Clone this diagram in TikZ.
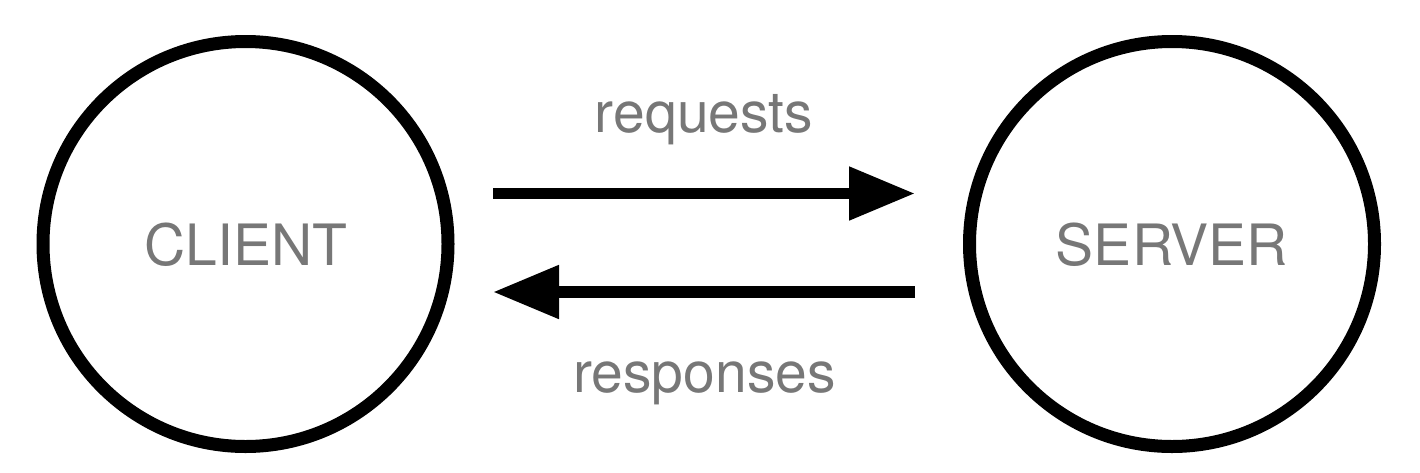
\documentclass[tikz,border=0pt]{standalone}
\usepackage{fontspec}
\setmainfont{TeX Gyre Heros}
\usetikzlibrary{arrows.meta}
\definecolor{labelgray}{HTML}{777777}
\tikzset{
  peer/.style={circle, draw=black, line width=13pt, minimum size=405pt, inner sep=0pt,
    text=labelgray, font=\fontsize{57pt}{60pt}\selectfont},
  msg/.style={line width=11.5pt, draw=black, -{Triangle[length=66pt,width=51pt]}},
  lbl/.style={anchor=base, text=labelgray, inner sep=0pt, font=\fontsize{57pt}{60pt}\selectfont}
}
\begin{document}
\begin{tikzpicture}[x=1pt,y=-1pt]
\useasboundingbox (0,0) rectangle (1420,472);
\node[peer] (client) at (245.5,244) {};
\node[peer] (server) at (1172,244) {};
\node[lbl] (clientlbl) at (246,265) {CLIENT};
\node[lbl] (serverlbl) at (1172,265) {SERVER};
\draw[msg, shorten <=38.5pt, shorten >=48pt] ([yshift=50.5pt]client.east) -- ([yshift=50.5pt]server.west);
\draw[msg, shorten <=48pt, shorten >=38.5pt] ([yshift=-48pt]server.west) -- ([yshift=-48pt]client.east);
\node[lbl] (req) at (704,132) {requests};
\node[lbl] (resp) at (704.5,392) {responses};
\end{tikzpicture}
\end{document}
